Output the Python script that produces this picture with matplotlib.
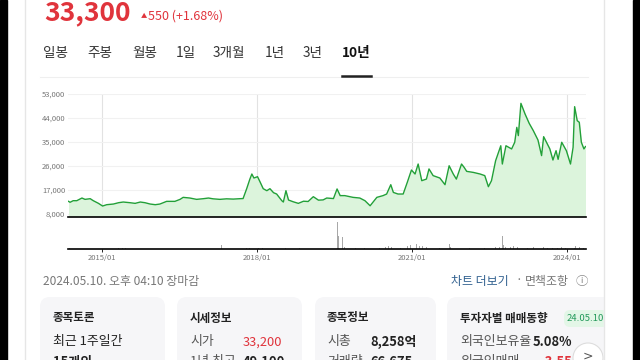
import numpy as np
import matplotlib.pyplot as plt
from matplotlib.patches import FancyBboxPatch, Rectangle, Circle

plt.rcParams['font.family'] = ['Noto Sans CJK KR', 'DejaVu Sans']

# 10년 주가 (원), 시점은 연 단위 소수
years = [2014.35, 2014.38, 2014.44, 2014.51, 2014.57, 2014.61, 2014.67, 2014.77, 2014.83, 2014.93,
         2015.01, 2015.09, 2015.22, 2015.32, 2015.41, 2015.54, 2015.64, 2015.74, 2015.83, 2015.93,
         2016.03, 2016.12, 2016.25, 2016.41, 2016.51, 2016.57, 2016.70, 2016.83, 2016.96, 2017.06,
         2017.15, 2017.28, 2017.41, 2017.54, 2017.67, 2017.73, 2017.80, 2017.86, 2017.90, 2017.94,
         2018.01, 2018.06, 2018.12, 2018.19, 2018.25, 2018.32, 2018.38, 2018.48, 2018.51, 2018.56,
         2018.61, 2018.70, 2018.80, 2018.90, 2018.99, 2019.09, 2019.19, 2019.28, 2019.35, 2019.48,
         2019.55, 2019.61, 2019.70, 2019.86, 2019.99, 2020.09, 2020.19, 2020.32, 2020.44, 2020.51,
         2020.59, 2020.64, 2020.73, 2020.83, 2020.91, 2020.99, 2021.06, 2021.12, 2021.19, 2021.28,
         2021.33, 2021.41, 2021.54, 2021.64, 2021.72, 2021.80, 2021.86, 2021.96, 2022.01, 2022.06,
         2022.19, 2022.32, 2022.41, 2022.48, 2022.54, 2022.62, 2022.72, 2022.75, 2022.82, 2022.93,
         2022.99, 2023.03, 2023.06, 2023.11, 2023.19, 2023.27, 2023.35, 2023.44, 2023.51, 2023.55,
         2023.67, 2023.73, 2023.79, 2023.83, 2023.90, 2023.99, 2024.07, 2024.12, 2024.15, 2024.20,
         2024.24, 2024.28, 2024.33, 2024.36]
price = [12750, 12400, 13000, 13000, 13600, 14000, 13500, 13750, 13000, 12000,
         11000, 11500, 11750, 12250, 12500, 12250, 12000, 12500, 12250, 11750,
         11500, 11750, 12750, 12750, 13500, 14250, 14000, 13500, 13750, 14000,
         13700, 13500, 13700, 13600, 13750, 13800, 17500, 21000, 23000, 21500,
         22000, 20000, 17500, 16750, 17500, 16000, 15500, 13000, 12500, 16750,
         13250, 12600, 12000, 12800, 12700, 14500, 13200, 13300, 14000, 13800,
         17400, 14900, 14900, 14250, 14000, 13000, 11100, 14250, 14900, 15500,
         19000, 16100, 15500, 15500, 19900, 24500, 23000, 26750, 20500, 21100,
         24900, 22400, 21500, 19000, 26100, 23000, 21100, 26750, 25500, 24000,
         23600, 23000, 22400, 18250, 20500, 28000, 33600, 26750, 33600, 32400,
         34900, 40500, 37400, 49500, 45500, 42000, 39250, 35750, 29900, 37000,
         32400, 28250, 31750, 28500, 34900, 31750, 26750, 33000, 48250, 43000,
         42400, 34900, 32400, 33300]

# 거래량 (상대값)
vol_years = [2014.37, 2015.31, 2015.39, 2015.45, 2017.32, 2017.79, 2017.86, 2018.02, 2018.10, 2018.56,
             2018.83, 2019.55, 2019.58, 2019.66, 2019.70, 2019.80, 2019.91, 2020.09, 2020.38, 2020.48,
             2020.54, 2020.61, 2020.77, 2020.92, 2020.98, 2021.02, 2021.08, 2021.14, 2021.20, 2021.28,
             2021.35, 2021.54, 2021.72, 2021.75, 2021.93, 2022.12, 2022.41, 2022.61, 2022.70, 2022.75,
             2022.78, 2022.82, 2022.90, 2022.97, 2023.05, 2023.17, 2023.24, 2023.36, 2023.46, 2023.55,
             2023.63, 2023.73, 2023.81, 2023.90, 2023.98, 2024.08, 2024.14, 2024.17, 2024.25, 2024.33]
volume = [100, 80, 80, 80, 450, 120, 150, 120, 100, 100,
          80, 2700, 1300, 1200, 200, 100, 100, 80, 150, 250,
          300, 200, 150, 350, 450, 300, 500, 300, 300, 250,
          200, 100, 500, 200, 100, 100, 100, 200, 250, 1300,
          400, 250, 200, 300, 200, 200, 150, 200, 150, 250,
          150, 150, 150, 200, 150, 200, 150, 350, 250, 100]

y_ticks = [8000, 17000, 26000, 35000, 44000, 53000]
x_ticks = [2015, 2018, 2021, 2024]
x_labels = ['2015/01', '2018/01', '2021/01', '2024/01']
tabs = ['일봉', '주봉', '월봉', '1일', '3개월', '1년', '3년', '10년']

RED = '#e0343c'
GREEN = '#22a038'
FILL = '#dcf4dc'

fig = plt.figure(figsize=(6.4, 3.6), dpi=100)
fig.patch.set_facecolor('white')

# 화면 배경 (픽셀 좌표)
bg = fig.add_axes([0, 0, 1, 1])
bg.set_xlim(0, 640)
bg.set_ylim(360, 0)
bg.axis('off')
bg.add_patch(Rectangle((0, 0), 7, 360, color='black', zorder=5))
bg.add_patch(Rectangle((633, 0), 7, 360, color='black', zorder=5))
bg.add_patch(Rectangle((604, 0), 29, 360, color='white', zorder=4))
bg.plot([25, 25], [0, 360], color='#e6e6e6', lw=1, zorder=5)
bg.plot([603.5, 603.5], [0, 360], color='#e6e6e6', lw=1, zorder=5)

# 현재가
bg.text(44, 12.5, '33,300', color=RED, fontsize=19, fontweight='bold', va='center', ha='left')
bg.text(141, 16, '▲', color=RED, fontsize=4.5, va='center', ha='left')
bg.text(148, 16, '550 (+1.68%)', color=RED, fontsize=9, va='center', ha='left')

# 기간 탭
tab_x = [43, 87, 132, 176, 213, 265, 303, 342]
for tx, name in zip(tab_x, tabs):
    last = name == '10년'
    bg.text(tx, 53, name, fontsize=9.8, va='center', ha='left',
            color='#111111' if last else '#333333', fontweight='bold' if last else 'normal')
bg.plot([40, 588], [76.5, 76.5], color='#efefef', lw=0.8)
bg.plot([342, 371], [75.5, 75.5], color='#222222', lw=1.8)

# 주가 차트
ax = fig.add_axes([68 / 640, 1 - 216.7 / 360, 518 / 640, (216.7 - 94) / 360])
ylow = 7000
ax.fill_between(years, price, ylow, color=FILL, lw=0)
ax.plot(years, price, color=GREEN, lw=1)
ax.set_xlim(2014.34, 2024.37)
ax.set_ylim(ylow, 53000)
ax.set_yticks(y_ticks)
ax.set_yticklabels([f'{v:,}' for v in y_ticks], fontsize=5.5, color='#777777')
ax.set_xticks(x_ticks)
ax.set_xticklabels([])
ax.grid(axis='y', color='#f1f1f1', lw=0.8)
ax.grid(axis='x', color='#e2e2e2', lw=0.8)
ax.set_axisbelow(True)
ax.tick_params(length=0, pad=2)
for s in ['top', 'right', 'left']:
    ax.spines[s].set_visible(False)
ax.spines['bottom'].set_color('black')
ax.spines['bottom'].set_linewidth(1.2)
ax.patch.set_alpha(0)

# 거래량
vax = fig.add_axes([68 / 640, 1 - 249 / 360, 518 / 640, (249 - 218) / 360])
vax.bar(vol_years, volume, width=0.018, color='#a8a8a8')
vax.set_xlim(2014.34, 2024.37)
vax.set_ylim(0, 3100)
vax.set_yticks([])
vax.set_xticks(x_ticks)
vax.set_xticklabels(x_labels, fontsize=5.5, color='#777777')
vax.tick_params(axis='x', length=2, pad=1.5, color='black', width=0.6)
for s in ['top', 'right', 'left']:
    vax.spines[s].set_visible(False)
vax.spines['bottom'].set_color('black')
vax.spines['bottom'].set_linewidth(1.2)
vax.patch.set_alpha(0)

# 하단 정보
bg.text(43, 281, '2024.05.10. 오후 04:10 장마감', fontsize=8.6, color='#777777', va='center')
bg.text(451, 281, '차트 더보기', fontsize=8.6, color='#2f5f8e', va='center')
bg.text(515, 281, '·', fontsize=8.6, color='#777777', va='center')
bg.text(525, 281, '면책조항', fontsize=8.6, color='#777777', va='center')
bg.text(576, 281, 'ⓘ', fontsize=9, color='#888888', va='center')

# 카드
cards = [(40, 165), (177, 302), (315, 436), (447, 640)]
for x0, x1 in cards:
    bg.add_patch(FancyBboxPatch((x0, 297), x1 - x0, 90, boxstyle='round,pad=0,rounding_size=10',
                                facecolor='#f6f6f8', edgecolor='none', zorder=1))

bg.text(53, 318, '종목토론', fontsize=8.3, fontweight='bold', color='#222222', va='center')
bg.text(53, 342, '최근 1주일간', fontsize=9.3, color='#222222', va='center')
bg.text(53, 362, '15개의', fontsize=9.3, fontweight='bold', color='#222222', va='center')

bg.text(190, 318, '시세정보', fontsize=8.3, fontweight='bold', color='#222222', va='center')
bg.text(190, 342, '시가', fontsize=9.3, color='#555555', va='center')
bg.text(243, 342, '33,200', fontsize=9.3, color=RED, va='center')
bg.text(190, 362, '1년 최고', fontsize=9.3, color='#555555', va='center')
bg.text(243, 362, '49,100', fontsize=9.3, fontweight='bold', color='#222222', va='center')

bg.text(327, 318, '종목정보', fontsize=8.3, fontweight='bold', color='#222222', va='center')
bg.text(327, 342, '시총', fontsize=9.3, color='#555555', va='center')
bg.text(370, 342, '8,258억', fontsize=9.3, fontweight='bold', color='#222222', va='center')
bg.text(327, 362, '거래량', fontsize=9.3, color='#555555', va='center')
bg.text(370, 362, '66,675', fontsize=9.3, fontweight='bold', color='#222222', va='center')

bg.text(460, 318, '투자자별 매매동향', fontsize=8.3, fontweight='bold', color='#222222', va='center')
bg.add_patch(FancyBboxPatch((564, 310), 45, 17, boxstyle='round,pad=0,rounding_size=6',
                            facecolor='#e3f6e7', edgecolor='none', zorder=2))
bg.text(567, 318.5, '24.05.10', fontsize=6.8, color='#23995a', va='center', zorder=3)
bg.text(460, 342, '외국인보유율', fontsize=9.3, color='#555555', va='center')
bg.text(533, 342, '5.08%', fontsize=9.3, fontweight='bold', color='#222222', va='center')
bg.text(460, 362, '외국인매매', fontsize=9.3, color='#555555', va='center')
bg.text(540, 362, '-3,55', fontsize=9.3, fontweight='bold', color=RED, va='center')
bg.add_patch(Circle((588, 358), 15, facecolor='white', edgecolor='#dddddd', lw=0.8, zorder=3))
bg.text(588, 356, '>', fontsize=9, color='#555555', va='center', ha='center', zorder=4,
        family=['DejaVu Sans'])

fig.savefig('out.png', dpi=100)
